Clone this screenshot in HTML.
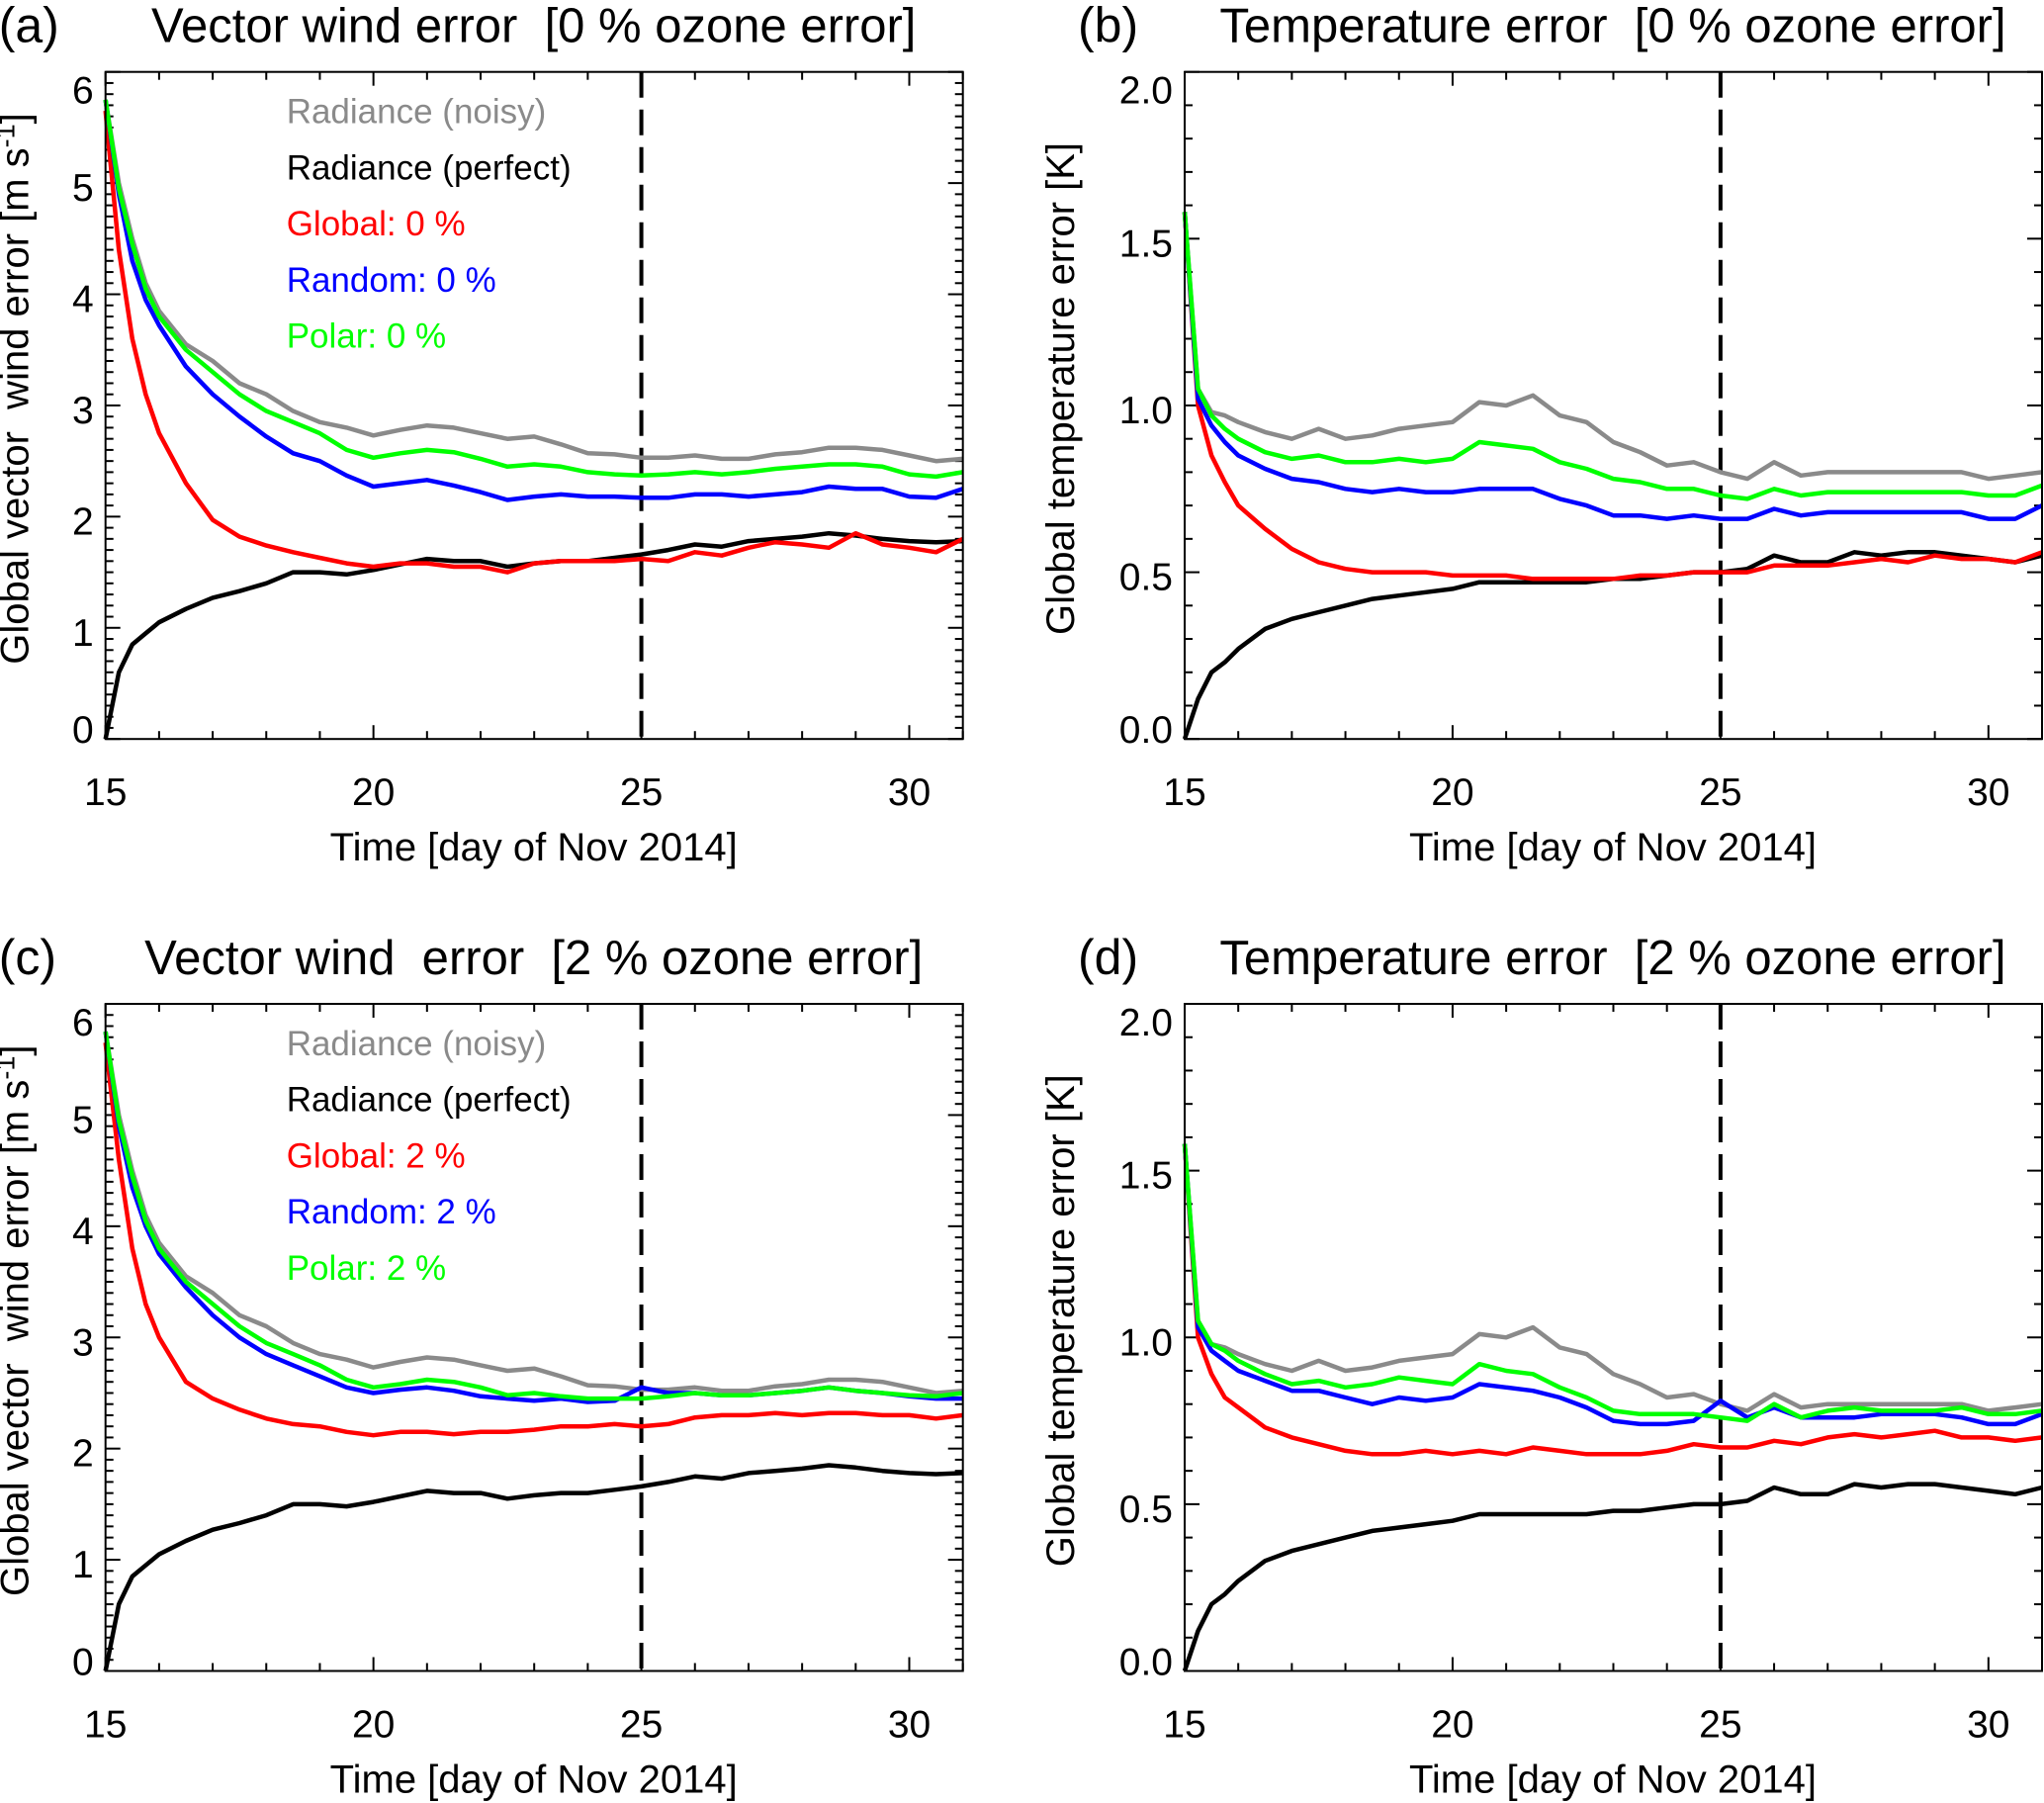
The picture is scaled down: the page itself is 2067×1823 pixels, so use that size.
<!DOCTYPE html>
<html><head><meta charset="utf-8"><style>
body{margin:0;background:#fff;}
svg{display:block;font-family:"Liberation Sans",Arial,sans-serif;}
svg text{white-space:pre;}
</style></head><body>
<svg id="fig" width="2067" height="1823" viewBox="0 0 2067 1823" xmlns="http://www.w3.org/2000/svg"></svg>
<script>
const days=[15,15.25,15.5,15.75,16,16.5,17,17.5,18,18.5,19,19.5,20,20.5,21,21.5,22,22.5,23,23.5,24,24.5,25,25.5,26,26.5,27,27.5,28,28.5,29,29.5,30,30.5,31];
const xTicks=[15,20,25,30];
const windTicks=[0,1,2,3,4,5,6];
const tempTicks=["0.0","0.5","1.0","1.5","2.0"];
const windGray=[5.75,5.0,4.5,4.1,3.85,3.55,3.4,3.2,3.1,2.95,2.85,2.8,2.73,2.78,2.82,2.8,2.75,2.7,2.72,2.65,2.57,2.56,2.53,2.53,2.55,2.52,2.52,2.56,2.58,2.62,2.62,2.6,2.55,2.5,2.52];
const windBlack=[0,0.6,0.85,0.95,1.05,1.17,1.27,1.33,1.4,1.5,1.5,1.48,1.52,1.57,1.62,1.6,1.6,1.55,1.58,1.6,1.6,1.63,1.66,1.7,1.75,1.73,1.78,1.8,1.82,1.85,1.83,1.8,1.78,1.77,1.78];
const aRed=[5.65,4.4,3.6,3.1,2.75,2.3,1.97,1.82,1.74,1.68,1.63,1.58,1.55,1.58,1.58,1.55,1.55,1.5,1.58,1.6,1.6,1.6,1.62,1.6,1.68,1.65,1.72,1.77,1.75,1.72,1.85,1.75,1.72,1.68,1.8];
const aBlue=[5.75,4.9,4.3,3.95,3.72,3.35,3.1,2.9,2.72,2.57,2.5,2.37,2.27,2.3,2.33,2.28,2.22,2.15,2.18,2.2,2.18,2.18,2.17,2.17,2.2,2.2,2.18,2.2,2.22,2.27,2.25,2.25,2.18,2.17,2.25];
const aGreen=[5.75,4.95,4.45,4.05,3.8,3.5,3.3,3.1,2.95,2.85,2.75,2.6,2.53,2.57,2.6,2.58,2.52,2.45,2.47,2.45,2.4,2.38,2.37,2.38,2.4,2.38,2.4,2.43,2.45,2.47,2.47,2.45,2.38,2.36,2.4];
const cRed=[5.65,4.6,3.8,3.3,3.0,2.6,2.45,2.35,2.27,2.22,2.2,2.15,2.12,2.15,2.15,2.13,2.15,2.15,2.17,2.2,2.2,2.22,2.2,2.22,2.28,2.3,2.3,2.32,2.3,2.32,2.32,2.3,2.3,2.27,2.3];
const cBlue=[5.75,4.9,4.35,4.0,3.75,3.45,3.2,3.0,2.85,2.75,2.65,2.55,2.5,2.53,2.55,2.52,2.47,2.45,2.43,2.45,2.42,2.43,2.55,2.5,2.5,2.48,2.48,2.5,2.52,2.55,2.52,2.5,2.47,2.45,2.45];
const cGreen=[5.75,4.95,4.45,4.05,3.8,3.5,3.3,3.1,2.95,2.85,2.75,2.62,2.55,2.58,2.62,2.6,2.55,2.48,2.5,2.47,2.45,2.45,2.45,2.47,2.5,2.48,2.48,2.5,2.52,2.55,2.52,2.5,2.48,2.47,2.5];
const tempGray=[1.58,1.05,0.98,0.97,0.95,0.92,0.9,0.93,0.9,0.91,0.93,0.94,0.95,1.01,1.0,1.03,0.97,0.95,0.89,0.86,0.82,0.83,0.8,0.78,0.83,0.79,0.8,0.8,0.8,0.8,0.8,0.8,0.78,0.79,0.8];
const tempBlack=[0,0.12,0.2,0.23,0.27,0.33,0.36,0.38,0.4,0.42,0.43,0.44,0.45,0.47,0.47,0.47,0.47,0.47,0.48,0.48,0.49,0.5,0.5,0.51,0.55,0.53,0.53,0.56,0.55,0.56,0.56,0.55,0.54,0.53,0.55];
const bRed=[1.58,1.0,0.85,0.77,0.7,0.63,0.57,0.53,0.51,0.5,0.5,0.5,0.49,0.49,0.49,0.48,0.48,0.48,0.48,0.49,0.49,0.5,0.5,0.5,0.52,0.52,0.52,0.53,0.54,0.53,0.55,0.54,0.54,0.53,0.56];
const bBlue=[1.58,1.02,0.94,0.89,0.85,0.81,0.78,0.77,0.75,0.74,0.75,0.74,0.74,0.75,0.75,0.75,0.72,0.7,0.67,0.67,0.66,0.67,0.66,0.66,0.69,0.67,0.68,0.68,0.68,0.68,0.68,0.68,0.66,0.66,0.7];
const bGreen=[1.58,1.05,0.97,0.93,0.9,0.86,0.84,0.85,0.83,0.83,0.84,0.83,0.84,0.89,0.88,0.87,0.83,0.81,0.78,0.77,0.75,0.75,0.73,0.72,0.75,0.73,0.74,0.74,0.74,0.74,0.74,0.74,0.73,0.73,0.76];
const dRed=[1.58,1.0,0.89,0.82,0.79,0.73,0.7,0.68,0.66,0.65,0.65,0.66,0.65,0.66,0.65,0.67,0.66,0.65,0.65,0.65,0.66,0.68,0.67,0.67,0.69,0.68,0.7,0.71,0.7,0.71,0.72,0.7,0.7,0.69,0.7];
const dBlue=[1.58,1.03,0.96,0.93,0.9,0.87,0.84,0.84,0.82,0.8,0.82,0.81,0.82,0.86,0.85,0.84,0.82,0.79,0.75,0.74,0.74,0.75,0.81,0.76,0.79,0.76,0.76,0.76,0.77,0.77,0.77,0.76,0.74,0.74,0.77];
const dGreen=[1.58,1.05,0.98,0.96,0.93,0.89,0.86,0.87,0.85,0.86,0.88,0.87,0.86,0.92,0.9,0.89,0.85,0.82,0.78,0.77,0.77,0.77,0.76,0.75,0.8,0.76,0.78,0.79,0.78,0.78,0.78,0.79,0.77,0.77,0.78];

const NS="http://www.w3.org/2000/svg";
const svg=document.getElementById('fig');
function mk(tag,attrs,parent){const e=document.createElementNS(NS,tag);for(const k in attrs)e.setAttribute(k,attrs[k]);(parent||svg).appendChild(e);return e;}
const W=867,H=674.5;
const panels=[
 {id:'a',x0:106.7,y0:72.7,ymax:6,minor:0.1,ticks:windTicks,ylab:'Global vector  wind error [m s',wind:true,title:'Vector wind error  [0 % ozone error]',pct:'0 %',series:[windGray,windBlack,aRed,aBlue,aGreen]},
 {id:'b',x0:1198,y0:72.7,ymax:2,minor:0.1,ticks:tempTicks,ylab:'Global temperature error [K]',wind:false,title:'Temperature error  [0 % ozone error]',pct:null,series:[tempGray,tempBlack,bRed,bBlue,bGreen]},
 {id:'c',x0:106.7,y0:1015,ymax:6,minor:0.1,ticks:windTicks,ylab:'Global vector  wind error [m s',wind:true,title:'Vector wind  error  [2 % ozone error]',pct:'2 %',series:[windGray,windBlack,cRed,cBlue,cGreen]},
 {id:'d',x0:1198,y0:1015,ymax:2,minor:0.1,ticks:tempTicks,ylab:'Global temperature error [K]',wind:false,title:'Temperature error  [2 % ozone error]',pct:null,series:[tempGray,tempBlack,dRed,dBlue,dGreen]}
];
const colors=['#8a8a8a','#000000','#ff0000','#0000ff','#00ff00'];
const names=['radiance-noisy','radiance-perfect','global','random','polar'];
panels.forEach(p=>{
 const g=mk('g',{});
 
 
 const xs=d=>p.x0+(d-15)/16*W;
 const ys=v=>p.y0+H-v/p.ymax*H;
 const lt=mk('text',{x:p.x0-108,y:p.y0-30,'font-size':50,fill:'#000'},g);lt.textContent='('+p.id+')';
 
 const tt=mk('text',{x:p.x0+433,y:p.y0-30,'font-size':49,'text-anchor':'middle',fill:'#000'},g);tt.textContent=p.title;
 
 for(let d=15;d<=31;d++){
  const major=(d%5===0);const L=major?14:8;
  mk('line',{x1:xs(d),x2:xs(d),y1:p.y0+H,y2:p.y0+H-L,stroke:'#000','stroke-width':2},g);
  mk('line',{x1:xs(d),x2:xs(d),y1:p.y0,y2:p.y0+L,stroke:'#000','stroke-width':2},g);
 }
 const nMin=Math.round(p.ymax/p.minor);
 for(let i=0;i<=nMin;i++){
  const v=i*p.minor;const major=p.wind?(i%10===0):(i%5===0);const L=major?15:8;
  mk('line',{x1:p.x0,x2:p.x0+L,y1:ys(v),y2:ys(v),stroke:'#000','stroke-width':2},g);
  mk('line',{x1:p.x0+W,x2:p.x0+W-L,y1:ys(v),y2:ys(v),stroke:'#000','stroke-width':2},g);
 }
 xTicks.forEach(d=>{const t=mk('text',{x:xs(d),y:p.y0+H+67,'font-size':39,'text-anchor':'middle'},g);t.textContent=d;
  });
 p.ticks.forEach(s=>{const v=parseFloat(s);let off=18;
  if(v===0)off=4;else if(v===p.ymax)off=32;
  const t=mk('text',{x:p.x0-12,y:ys(v)+off,'font-size':39,'text-anchor':'end'},g);t.textContent=s;
  });
 const xt=mk('text',{x:p.x0+433,y:p.y0+H+123,'font-size':40,'text-anchor':'middle'},g);xt.textContent='Time [day of Nov 2014]';
 
 const cy=p.y0+H/2-17;const cx=p.x0-(p.wind?78:112);
 const yt=mk('text',{x:cx,y:cy,'font-size':40,'text-anchor':'middle',transform:`rotate(-90 ${cx} ${cy})`},g);
 
 if(p.wind){yt.textContent=p.ylab;const sp=mk('tspan',{'font-size':27,dy:-14},yt);sp.textContent='-1';const sp2=mk('tspan',{dy:14},yt);sp2.textContent=']';}
 else yt.textContent=p.ylab;
 const dl=mk('line',{x1:xs(25),x2:xs(25),y1:p.y0,y2:p.y0+H,stroke:'#000','stroke-width':4,'stroke-dasharray':'26 12'},g);
 
 p.series.forEach((arr,k)=>{
  const pts=arr.map((v,i)=>xs(days[i]).toFixed(1)+','+ys(v).toFixed(1)).join(' ');
  const pl=mk('polyline',{points:pts,fill:'none',stroke:colors[k],'stroke-width':4.5,'stroke-linejoin':'round'},g);
  
  
 });
 mk('rect',{x:p.x0,y:p.y0,width:W,height:H,fill:'none',stroke:'#000','stroke-width':2},g);
 if(p.pct){
  const labels=['Radiance (noisy)','Radiance (perfect)','Global: '+p.pct,'Random: '+p.pct,'Polar: '+p.pct];
  labels.forEach((s,k)=>{const t=mk('text',{x:p.x0+183,y:p.y0+52+k*56.7,'font-size':35,fill:colors[k]},g);t.textContent=s;
   });
 }
});
</script>
</body></html>
